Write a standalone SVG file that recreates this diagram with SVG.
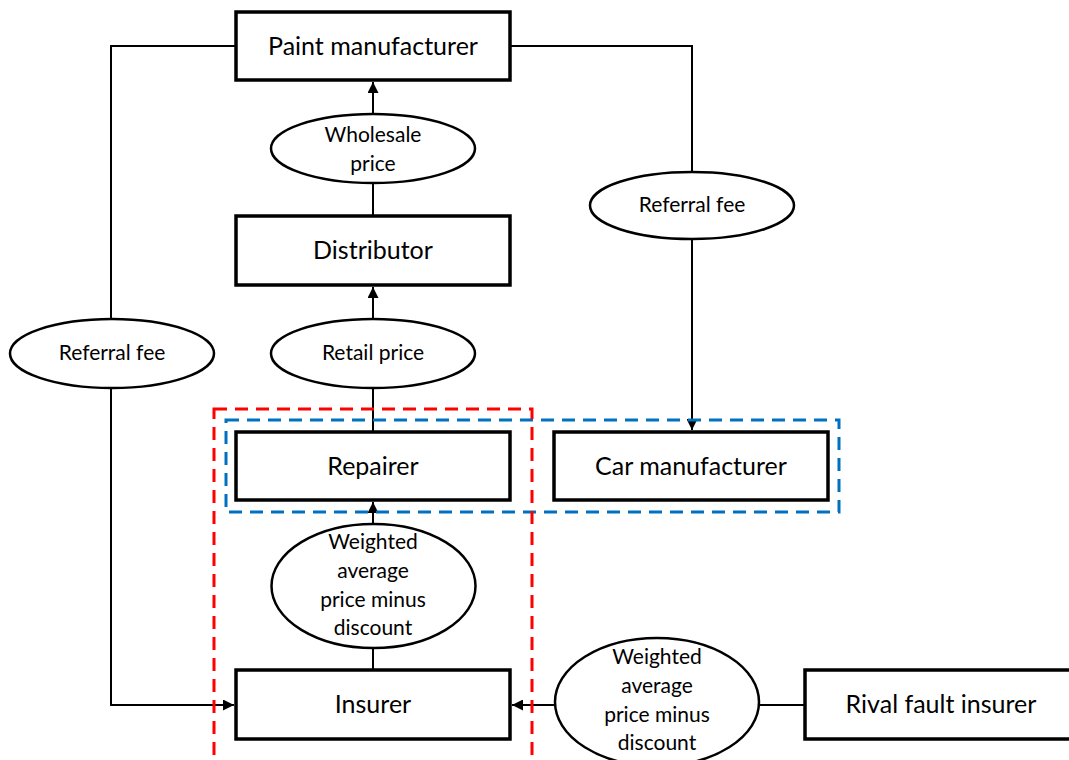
<svg xmlns="http://www.w3.org/2000/svg" width="1069" height="760" viewBox="0 0 1069 760">
<style>
.box{fill:#fff;stroke:#000;stroke-width:3.5}
.ell{fill:#fff;stroke:#000;stroke-width:2.5}
.bt{font-family:Lato,"Liberation Sans",sans-serif;font-size:25px;fill:#000;text-anchor:middle}
.et{font-family:Lato,"Liberation Sans",sans-serif;font-size:21px;fill:#000;text-anchor:middle}
.ln{fill:none;stroke:#000;stroke-width:2}
.arr{fill:none;stroke:#000;stroke-width:2;marker-end:url(#ah)}
</style>
<defs>
<marker id="ah" viewBox="0 0 10 10" refX="10" refY="5" markerWidth="5.5" markerHeight="5.5" orient="auto" markerUnits="strokeWidth">
<path d="M0,0 L10,5 L0,10 z" fill="#000"/>
</marker>
</defs>
<rect width="1069" height="760" fill="#fff"/>
<g id="connectors">
<polyline class="ln" points="236,46 111,46 111,319"/>
<polyline class="arr" points="111,388 111,705 234,705"/>
<polyline class="ln" points="510,46 692,46 692,172"/>
<polyline class="arr" points="692,239 692,430"/>
<line class="arr" x1="373" y1="114" x2="373" y2="82"/>
<line class="ln" x1="373" y1="183" x2="373" y2="216"/>
<line class="arr" x1="373" y1="319" x2="373" y2="287"/>
<line class="ln" x1="373" y1="388" x2="373" y2="432"/>
<line class="arr" x1="373" y1="524" x2="373" y2="502"/>
<line class="ln" x1="373" y1="648" x2="373" y2="670"/>
<line class="ln" x1="805" y1="705" x2="759" y2="705"/>
<line class="arr" x1="555" y1="705" x2="512" y2="705"/>
</g>
<g id="paint"><rect class="box" x="236" y="12" width="274" height="68"/><text class="bt" x="373" y="55">Paint manufacturer</text></g>
<g id="wholesale"><ellipse class="ell" cx="373" cy="148.5" rx="102" ry="34.5"/><text class="et" x="373" y="142">Wholesale</text><text class="et" x="373" y="171">price</text></g>
<g id="distributor"><rect class="box" x="236" y="216" width="274" height="69"/><text class="bt" x="373" y="259">Distributor</text></g>
<g id="referral-left"><ellipse class="ell" cx="112" cy="353.5" rx="102" ry="34.5"/><text class="et" x="112" y="360">Referral fee</text></g>
<g id="retail"><ellipse class="ell" cx="373" cy="353.5" rx="102" ry="34.5"/><text class="et" x="373" y="360">Retail price</text></g>
<g id="referral-right"><ellipse class="ell" cx="692" cy="205.5" rx="102" ry="33.5"/><text class="et" x="692" y="212">Referral fee</text></g>
<g id="repairer"><rect class="box" x="236" y="432" width="274" height="68"/><text class="bt" x="373" y="475">Repairer</text></g>
<g id="car"><rect class="box" x="554" y="432" width="274" height="68"/><text class="bt" x="691" y="475">Car manufacturer</text></g>
<g id="weighted1"><ellipse class="ell" cx="373.5" cy="586" rx="102" ry="62"/><text class="et" x="373" y="549">Weighted</text><text class="et" x="373" y="578">average</text><text class="et" x="373" y="607">price minus</text><text class="et" x="373" y="635">discount</text></g>
<g id="insurer"><rect class="box" x="236" y="670" width="274" height="69"/><text class="bt" x="373" y="713">Insurer</text></g>
<g id="weighted2"><ellipse class="ell" cx="657" cy="702" rx="102" ry="64"/><text class="et" x="657" y="664">Weighted</text><text class="et" x="657" y="693">average</text><text class="et" x="657" y="722">price minus</text><text class="et" x="657" y="750">discount</text></g>
<g id="rival"><rect class="box" x="805" y="670" width="280" height="69"/><text class="bt" x="941" y="713">Rival fault insurer</text></g>
<g id="groups">
<rect x="226" y="420" width="613" height="92" fill="none" stroke="#0070C0" stroke-width="3" stroke-dasharray="13,8"/>
<rect x="214" y="409" width="318" height="380" fill="none" stroke="#FF0000" stroke-width="3" stroke-dasharray="13,8"/>
</g>
</svg>
